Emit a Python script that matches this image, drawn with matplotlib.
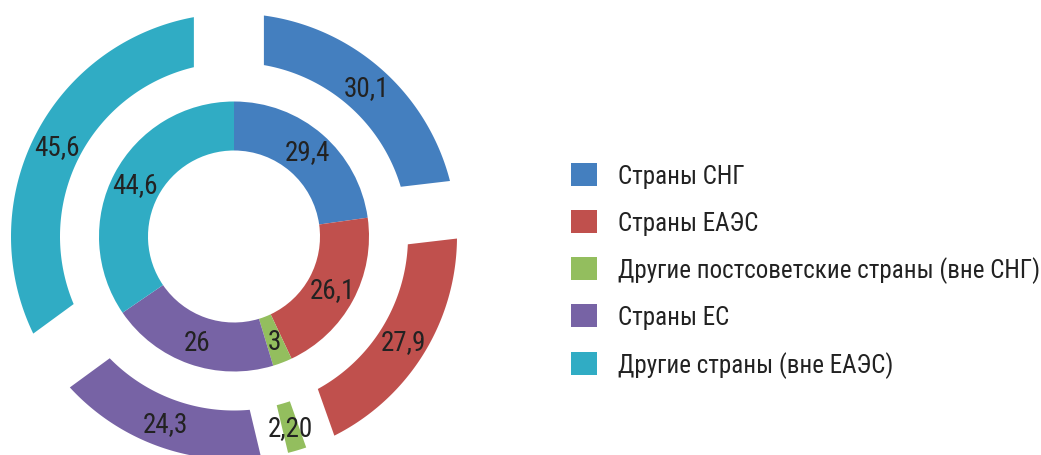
import numpy as np
import matplotlib.pyplot as plt

categories = ["Страны СНГ", "Страны ЕАЭС", "Другие постсоветские страны (вне СНГ)",
              "Страны ЕС", "Другие страны (вне ЕАЭС)"]
inner_values = [29.4, 26.1, 3, 26, 44.6]
outer_values = [30.1, 27.9, 2.2, 24.3, 45.6]
inner_labels = ["29,4", "26,1", "3", "26", "44,6"]
outer_labels = ["30,1", "27,9", "2,20", "24,3", "45,6"]
colors = ["#447FBF", "#C0504D", "#93BE5E", "#7763A5", "#30ACC4"]

plt.rcParams['font.family'] = ['Liberation Sans Narrow', 'Roboto Condensed',
                               'Open Sans Condensed', 'DejaVu Sans']
plt.rcParams['font.stretch'] = 'condensed'
TXT = "#222222"

W, H = 1041, 456
fig = plt.figure(figsize=(W / 100, H / 100), dpi=100)
ax = fig.add_axes([0, 0, 1, 1])

# one data unit = outer radius of the outer ring (px)
S = 223.0
cx, cy = 234.0, 237.5   # centre in px from top-left
R_OUT, R_IN = 1.0, 174 / S
EXPL = 45 / S


def slice_bounds(vals):
    vals = np.asarray(vals, dtype=float)
    cum = np.concatenate([[0], np.cumsum(vals)]) / vals.sum()
    start = 90 - 360 * cum[:-1]
    end = 90 - 360 * cum[1:]
    return start, end


# ── inner ring ─────────────────────────────
inner_w, _ = ax.pie(inner_values, radius=135 / S, startangle=90, counterclock=False,
                    colors=colors, wedgeprops=dict(width=(135 - 86) / S, linewidth=0))


# ── outer ring: Excel-style exploded slices ─────────
# slice edges are shifted along the mid-angle, arcs stay on the ring
def corner_angle(p, theta, r):
    u = np.array([np.cos(np.deg2rad(theta)), np.sin(np.deg2rad(theta))])
    b = p @ u
    t = -b + np.sqrt(b * b - p @ p + r * r)
    q = p + t * u
    phi = np.rad2deg(np.arctan2(q[1], q[0]))
    return theta + (phi - theta + 180) % 360 - 180


o_start, o_end = slice_bounds(outer_values)
for a2, a1, c in zip(o_start, o_end, colors):
    m = np.deg2rad((a1 + a2) / 2)
    p = EXPL * np.array([np.cos(m), np.sin(m)])
    t_out = np.deg2rad(np.linspace(corner_angle(p, a1, R_OUT), corner_angle(p, a2, R_OUT), 120))
    t_in = np.deg2rad(np.linspace(corner_angle(p, a2, R_IN), corner_angle(p, a1, R_IN), 120))
    xs = np.concatenate([R_OUT * np.cos(t_out), R_IN * np.cos(t_in)])
    ys = np.concatenate([R_OUT * np.sin(t_out), R_IN * np.sin(t_in)])
    ax.fill(xs, ys, color=c, lw=0)

# ── value labels ─────────────────────────
for vals, labs, r in [(inner_values, inner_labels, 112 / S),
                      (outer_values, outer_labels, 199 / S)]:
    s, e = slice_bounds(vals)
    for lab, a in zip(labs, np.deg2rad((s + e) / 2)):
        ax.text(r * np.cos(a), r * np.sin(a), lab, ha='center', va='center',
                fontsize=19.5, color=TXT)

ax.set_xlim(-cx / S, (W - cx) / S)
ax.set_ylim(-(H - cy) / S, cy / S)
ax.set_aspect('equal')
ax.axis('off')

ax.legend(inner_w, categories, loc='upper left',
          bbox_to_anchor=(571 / W, 1 - 164 / H), bbox_transform=fig.transFigure,
          frameon=False, fontsize=18, handlelength=1.04, handleheight=1.04,
          handletextpad=0.84, labelspacing=0.86, borderpad=0, borderaxespad=0,
          labelcolor=TXT)

fig.savefig("out.png", dpi=100)
